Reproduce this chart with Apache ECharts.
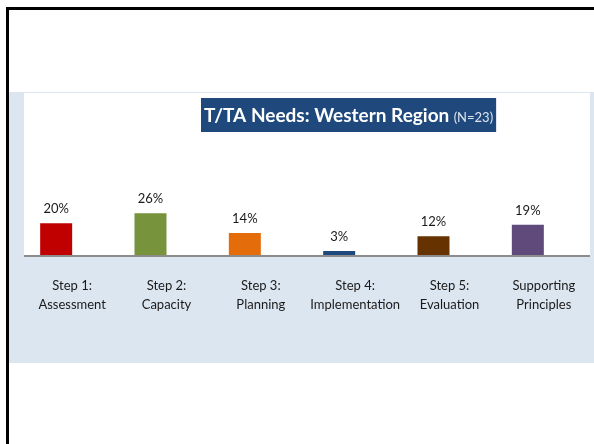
<!DOCTYPE html>
<html>
<head>
<meta charset="utf-8">
<script src="https://cdn.jsdelivr.net/npm/echarts@6/dist/echarts.min.js"></script>
<style>
  html, body { margin: 0; padding: 0; background: #fff; }
  #main { width: 594px; height: 444px; }
</style>
</head>
<body>
<div id="main"></div>
<script>
// 数据
const categories = ['Step 1:\nAssessment', 'Step 2:\nCapacity', 'Step 3:\nPlanning',
    'Step 4:\nImplementation', 'Step 5:\nEvaluation', 'Supporting\nPrinciples'];
const values = [20, 26, 14, 3, 12, 19];
const barColors = ['#C00000', '#77933C', '#E46C0A', '#1F497D', '#663300', '#604A7B'];

const myChart = echarts.init(document.getElementById('main'));

const option = {
    backgroundColor: '#fff',
    animation: false,
    textStyle: {fontFamily: 'Lato'},
    title: {
        text: '{a|T/TA Needs: Western Region} {b|(N=23)}',
        left: 201,
        top: 98,
        backgroundColor: '#1F497D',
        padding: [8, 3, 7, 3],
        textStyle: {
            rich: {
                a: {fontFamily: 'Lato', fontWeight: 'bold', fontSize: 19, color: '#fff'},
                b: {fontFamily: 'Lato', fontWeight: 'normal', fontSize: 13, color: '#dfe5ee', verticalAlign: 'bottom', padding: [0, 0, 1, 0]}
            }
        },
        z: 10
    },
    graphic: [
        // 幻灯片边框
        {type: 'rect', shape: {x: 6, y: 7, width: 600, height: 3}, style: {fill: '#000'}, silent: true},
        {type: 'rect', shape: {x: 6, y: 7, width: 3, height: 450}, style: {fill: '#000'}, silent: true},
        // 浅蓝底
        {type: 'rect', shape: {x: 9, y: 92, width: 590, height: 271}, style: {fill: '#DCE6F1'}, z: -10, silent: true},
        // 白色绘图区
        {type: 'rect', shape: {x: 24, y: 93, width: 566, height: 163}, style: {fill: '#fff'}, z: -9, silent: true},
        // 横轴线
        {type: 'rect', shape: {x: 24, y: 255, width: 566, height: 2}, style: {fill: '#8C8C8C'}, z: 5, silent: true}
    ],
    grid: {
        left: 9,
        right: 19,
        top: 92,
        bottom: 188,
        containLabel: false
    },
    xAxis: {
        type: 'category',
        data: categories,
        axisLine: {show: false},
        axisTick: {show: false},
        axisLabel: {
            fontFamily: 'Lato',
            fontSize: 13,
            color: '#1a1a1a',
            lineHeight: 19,
            margin: 20,
            interval: 0,
            padding: [0, 0, 0, 32]   // 标签整体右移约16px
        }
    },
    yAxis: {
        type: 'value',
        min: 0,
        max: 100,
        show: false,
        splitLine: {show: false}
    },
    series: [{
        type: 'bar',
        barWidth: 32,
        data: values.map((v, i) => ({value: v, itemStyle: {color: barColors[i]}})),
        label: {
            show: true,
            position: 'top',
            distance: 8,
            fontFamily: 'Lato',
            fontSize: 13,
            color: '#1a1a1a',
            formatter: '{c}%'
        }
    }]
};

myChart.setOption(option);
</script>
</body>
</html>
